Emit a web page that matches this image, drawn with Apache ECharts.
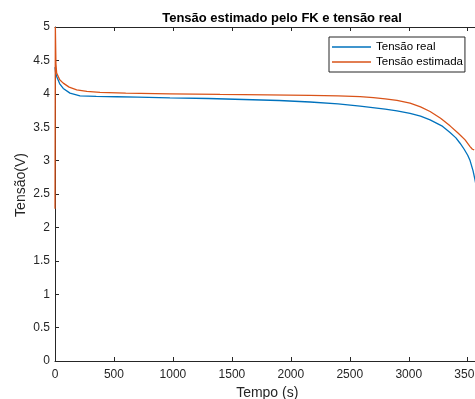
<!DOCTYPE html>
<html>
<head>
<meta charset="utf-8">
<script src="https://cdn.jsdelivr.net/npm/echarts@6/dist/echarts.min.js"></script>
<style>html,body{margin:0;padding:0;background:#fff}#c{width:475px;height:399px}</style>
</head>
<body>
<div id="c"></div>
<script>
var timeReal = [0,5,14,40,70,127,212,350,523,700,975,1300,1600,1900,2163,2400,2587,2800,2900,3011,3100,3181,3280,3350,3400,3435,3470,3500,3520,3545,3562,3580];
var voltReal = [4.4,4.32,4.26,4.15,4.08,4.01,3.97,3.96,3.956,3.95,3.94,3.93,3.915,3.9,3.877,3.85,3.817,3.77,3.745,3.708,3.665,3.61,3.52,3.42,3.34,3.26,3.17,3.08,3.0,2.85,2.71,2.55];
var timeEst = [0,3,8,14,40,70,120,184,270,382,600,975,1400,1800,2163,2400,2587,2700,2800,2900,3011,3100,3181,3270,3350,3420,3478,3520,3540,3555];
var voltEst = [2.28,5.0,4.45,4.31,4.21,4.16,4.1,4.06,4.035,4.02,4.01,4.0,3.99,3.985,3.977,3.968,3.957,3.943,3.925,3.9,3.86,3.805,3.735,3.635,3.52,3.41,3.31,3.21,3.17,3.16];
var xTicks = [0,500,1000,1500,2000,2500,3000,3500];
var seriesNames = ['Tensão real','Tensão estimada'];
var titleText = 'Tensão estimado pelo FK e tensão real';
var xName = 'Tempo (s)';
var yName = 'Tensão(V)';

function pairs(t, v){ var out=[]; for (var i=0;i<t.length;i++) out.push([t[i], v[i]]); return out; }
function plain(v){ return String(v); }

var axisColor = '#262626';
var font = 'Liberation Sans, Arial, sans-serif';
var chart = echarts.init(document.getElementById('c'), null, {renderer:'canvas'});
chart.setOption({
  animation: false,
  backgroundColor: '#ffffff',
  textStyle: {fontFamily: font},
  title: {
    text: titleText, left: 277, top: 7, textAlign: 'center',
    textStyle: {fontFamily: font, fontSize: 13, fontWeight: 'bold', color: '#000'}
  },
  legend: {
    orient: 'vertical', left: 329, top: 37,
    padding: [4, 2, 4, 3], itemGap: 3, itemWidth: 39, itemHeight: 1.3, itemTextGap: 3,
    icon: 'rect',
    borderColor: axisColor, borderWidth: 1, backgroundColor: '#fff',
    textStyle: {fontFamily: font, fontSize: 11.5, color: '#000', lineHeight: 12},
    data: seriesNames
  },
  grid: {left: 55, top: 27, width: 424.5, height: 334, containLabel: false, outerBoundsMode: 'none'},
  xAxis: [{
    type: 'value', min: 0, max: 3600, position: 'bottom',
    name: xName, nameLocation: 'middle', nameGap: 25, nameMoveOverlap: false,
    nameTextStyle: {fontFamily: font, fontSize: 14, color: axisColor},
    axisLine: {show: true, lineStyle: {color: axisColor, width: 1}},
    axisTick: {show: true, inside: true, length: 4, customValues: xTicks, lineStyle: {color: axisColor}},
    axisLabel: {show: true, margin: 8, fontFamily: font, fontSize: 12, color: axisColor, customValues: xTicks, formatter: plain},
    splitLine: {show: false}
  },{
    type: 'value', min: 0, max: 3600, position: 'top',
    axisLine: {show: true, lineStyle: {color: axisColor, width: 1}},
    axisTick: {show: true, inside: true, length: 4, customValues: xTicks, lineStyle: {color: axisColor}},
    axisLabel: {show: false},
    splitLine: {show: false}
  }],
  yAxis: [{
    type: 'value', min: 0, max: 5, interval: 0.5, position: 'left',
    name: yName, nameLocation: 'middle', nameGap: 27, nameRotate: 90, nameMoveOverlap: false,
    nameTextStyle: {fontFamily: font, fontSize: 14, color: axisColor, padding: [0,0,0,18]},
    axisLine: {show: true, lineStyle: {color: axisColor, width: 1}},
    axisTick: {show: true, inside: true, length: 4, lineStyle: {color: axisColor}},
    axisLabel: {show: true, margin: 5, fontFamily: font, fontSize: 12, color: axisColor, formatter: plain},
    splitLine: {show: false}
  }],
  series: [{
    name: seriesNames[0], type: 'line', data: pairs(timeReal, voltReal),
    symbol: 'none', showSymbol: false, clip: true,
    lineStyle: {color: '#0072BD', width: 1.3}, itemStyle: {color: '#0072BD'}
  },{
    name: seriesNames[1], type: 'line', data: pairs(timeEst, voltEst),
    symbol: 'none', showSymbol: false, clip: true,
    lineStyle: {color: '#D95319', width: 1.3}, itemStyle: {color: '#D95319'}
  }]
});
</script>
</body>
</html>
